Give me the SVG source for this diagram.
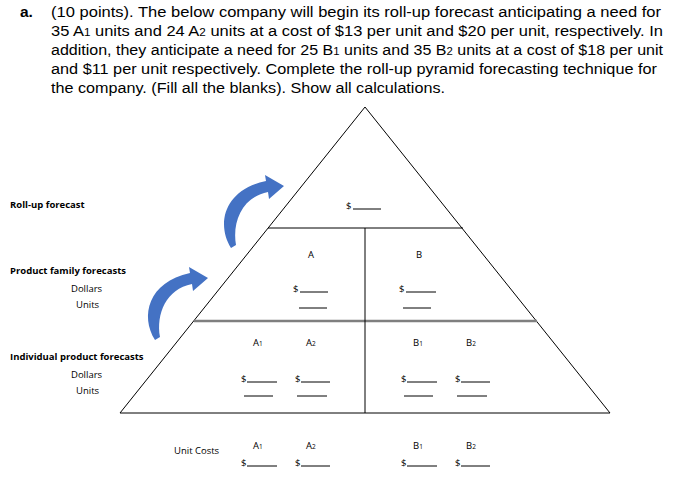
<svg xmlns="http://www.w3.org/2000/svg" width="687" height="495" viewBox="0 0 687 495">
<style>
.h{font-family:"Liberation Sans",Arial,sans-serif;font-size:15.5px;fill:#000}
.t{font-family:"Open Sans","DejaVu Sans",sans-serif;font-size:9.5px;fill:#000}
.b{font-weight:bold}
.ln{stroke:#000;stroke-width:1}
.g{stroke:#7f7f7f;stroke-width:2.5}
.u{stroke:#000;stroke-width:1}
.arr{fill:#4472C4}
</style>
<rect width="687" height="495" fill="#fff"/>
<g id="question">
<text class="h" x="20" y="17"><tspan font-weight="bold">a.</tspan></text>
<text class="h" x="51" y="17" textLength="610" lengthAdjust="spacingAndGlyphs">(10 points). The below company will begin its roll-up forecast anticipating a need for</text>
<text class="h" x="51" y="36" textLength="612" lengthAdjust="spacingAndGlyphs">35 A<tspan font-size="11">1</tspan> units and 24 A<tspan font-size="11">2</tspan> units at a cost of $13 per unit and $20 per unit, respectively. In</text>
<text class="h" x="51" y="55" textLength="612" lengthAdjust="spacingAndGlyphs">addition, they anticipate a need for 25 B<tspan font-size="11">1</tspan> units and 35 B<tspan font-size="11">2</tspan> units at a cost of $18 per unit</text>
<text class="h" x="51" y="74" textLength="606" lengthAdjust="spacingAndGlyphs">and $11 per unit respectively. Complete the roll-up pyramid forecasting technique for</text>
<text class="h" x="51" y="93" textLength="394" lengthAdjust="spacingAndGlyphs">the company. (Fill all the blanks). Show all calculations.</text>
</g>
<g id="pyramid">
<polygon points="365,107 120,413 610,413" fill="none" class="ln"/>
<line x1="268" y1="228" x2="463" y2="228" class="ln"/>
<line x1="194" y1="321" x2="537" y2="321" class="g"/>
<line x1="365" y1="228" x2="365" y2="413" class="ln"/>
</g>
<g id="arrows">
<path id="arr1" class="arr" d="M231,248 C216,224 224,190 266,181 L265,175 L284,186 L269,199 L268,192 C242,197 232,222 236,245 Z"/>
<use href="#arr1" transform="translate(-76,92)"/>
</g>
<g id="labels" class="t">
<text x="10" y="208" class="b">Roll-up forecast</text>
<text x="10" y="274" class="b">Product family forecasts</text>
<text x="71" y="292">Dollars</text>
<text x="76" y="308">Units</text>
<text x="10" y="360" class="b">Individual product forecasts</text>
<text x="71" y="378">Dollars</text>
<text x="76" y="394">Units</text>
<text x="174" y="454">Unit Costs</text>
</g>
<g id="top" class="t">
<text x="346" y="209">$</text><line x1="353" y1="209" x2="381" y2="209" class="u"/>
</g>
<g id="family" class="t">
<text x="308" y="258">A</text><text x="416" y="258">B</text>
<text x="293" y="292">$</text><line x1="300" y1="292" x2="328" y2="292" class="u"/>
<line x1="299" y1="308" x2="327" y2="308" class="u"/>
<text x="399" y="292">$</text><line x1="406" y1="292" x2="436" y2="292" class="u"/>
<line x1="403" y1="308" x2="431" y2="308" class="u"/>
</g>
<g id="individual" class="t">
<text x="253" y="346">A<tspan font-size="6.5">1</tspan></text>
<text x="306" y="346">A<tspan font-size="6.5">2</tspan></text>
<text x="413" y="346">B<tspan font-size="6.5">1</tspan></text>
<text x="466" y="346">B<tspan font-size="6.5">2</tspan></text>
<text x="241" y="382">$</text><line x1="247" y1="382" x2="277" y2="382" class="u"/>
<text x="295" y="382">$</text><line x1="301" y1="382" x2="330" y2="382" class="u"/>
<text x="401" y="382">$</text><line x1="407" y1="382" x2="437" y2="382" class="u"/>
<text x="455" y="382">$</text><line x1="461" y1="382" x2="490" y2="382" class="u"/>
<line x1="244" y1="396" x2="273" y2="396" class="u"/>
<line x1="297" y1="396" x2="327" y2="396" class="u"/>
<line x1="404" y1="396" x2="433" y2="396" class="u"/>
<line x1="457" y1="396" x2="487" y2="396" class="u"/>
</g>
<g id="unitcosts" class="t">
<text x="253" y="449">A<tspan font-size="6.5">1</tspan></text>
<text x="306" y="449">A<tspan font-size="6.5">2</tspan></text>
<text x="413" y="449">B<tspan font-size="6.5">1</tspan></text>
<text x="466" y="449">B<tspan font-size="6.5">2</tspan></text>
<text x="241" y="466">$</text><line x1="247" y1="466" x2="277" y2="466" class="u"/>
<text x="295" y="466">$</text><line x1="301" y1="466" x2="330" y2="466" class="u"/>
<text x="401" y="466">$</text><line x1="407" y1="466" x2="437" y2="466" class="u"/>
<text x="455" y="466">$</text><line x1="461" y1="466" x2="490" y2="466" class="u"/>
</g>
</svg>
